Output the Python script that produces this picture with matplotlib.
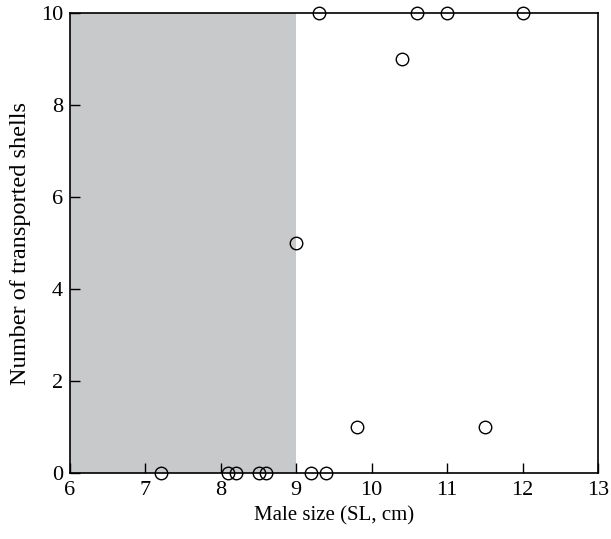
import matplotlib
matplotlib.use('Agg')
import matplotlib.pyplot as plt

plt.rcParams['font.family'] = 'serif'
plt.rcParams['font.serif'] = ['Liberation Serif', 'DejaVu Serif']

# Male size (SL, cm) and number of transported shells
male_size = [7.2, 8.1, 8.2, 8.5, 8.6, 9.2, 9.4, 9.0, 9.8, 11.5, 10.4, 9.3, 10.6, 11.0, 12.0]
shells = [0, 0, 0, 0, 0, 0, 0, 5, 1, 1, 9, 10, 10, 10, 10]

shade_start, shade_end = 6, 9

fig = plt.figure(figsize=(6.11, 5.39), dpi=100)
ax = fig.add_axes([0.1146, 0.1224, 0.8641, 0.8535])

ax.axvspan(shade_start, shade_end, color='#c8c9cb', lw=0, zorder=0)
ax.plot(male_size, shells, 'o', mfc='none', mec='black', mew=1.0,
        ms=9, ls='none', clip_on=False, zorder=3)

ax.set_xlim(6, 13)
ax.set_ylim(0, 10)
ax.set_xticks(range(6, 14))
ax.set_yticks(range(0, 11, 2))
ax.tick_params(direction='in', length=7, width=1, labelsize=16)
ax.tick_params(axis='x', pad=6)
ax.tick_params(axis='y', pad=5)
for s in ax.spines.values():
    s.set_linewidth(1.2)

ax.set_xlabel('Male size (SL, cm)', fontsize=15, labelpad=4)
ax.set_ylabel('Number of transported shells', fontsize=17.5, labelpad=7)

fig.savefig('out.png', dpi=100)
